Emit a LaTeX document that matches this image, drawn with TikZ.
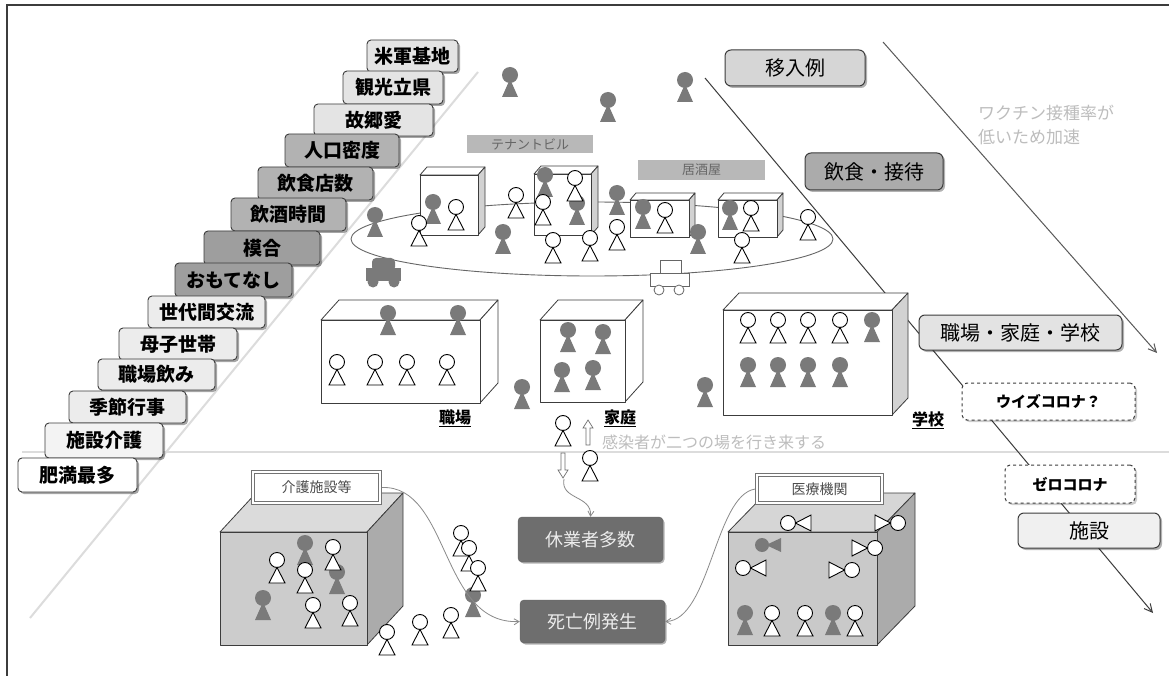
\documentclass[tikz,border=0pt]{standalone}
\usepackage{fontspec}
\setmainfont{Noto Sans CJK JP}
\usetikzlibrary{shadows,arrows.meta}

\definecolor{ink}{HTML}{3C3C3C}
\definecolor{gp}{HTML}{7A7A7A}
\definecolor{paleA}{HTML}{E4E4E4}
\definecolor{midg}{HTML}{B2B2B2}
\definecolor{darkg}{HTML}{9E9E9E}
\definecolor{softg}{HTML}{ECECEC}
\definecolor{softer}{HTML}{F3F3F3}
\definecolor{faint}{HTML}{BDBDBD}
\definecolor{boxd}{HTML}{6E6E6E}
\definecolor{sideg}{HTML}{D2D2D2}
\definecolor{connc}{HTML}{8A8A8A}
\definecolor{guide}{HTML}{DCDCDC}

% rounded label box given by its corners
\newcommand\tagbox[7]{\node[#6,minimum width={(#4-#2)*1pt},minimum height={(#5-#3)*1pt}] (#1) at ({(#2+#4)/2},{(#3+#5)/2}) {#7};}
% 3D box: x1 y1 x2 y2 (front face), depth dx dy, front/top/side fills
\newcommand\cubebox[9]{%
  \filldraw[cubeline,fill=#8] (#1,#2) -- ({#1+#5},{#2-#6}) -- ({#3+#5},{#2-#6}) -- (#3,#2) -- cycle;
  \filldraw[cubeline,fill=#9] (#3,#2) -- ({#3+#5},{#2-#6}) -- ({#3+#5},{#4-#6}) -- (#3,#4) -- cycle;
  \filldraw[cubeline,fill=#7] (#1,#2) rectangle (#3,#4);}
% hollow up / down arrows
\newcommand\uparr[2]{\draw[line width=0.7pt,draw=boxd,fill=white] ({#1-2},{#2+25}) -- ({#1-2},{#2+8}) -- ({#1-5},{#2+8}) -- (#1,#2) -- ({#1+5},{#2+8}) -- ({#1+2},{#2+8}) -- ({#1+2},{#2+25}) -- cycle;}
\newcommand\dnarr[2]{\draw[line width=0.7pt,draw=boxd,fill=white] ({#1-2},{#2}) -- ({#1-2},{#2+17}) -- ({#1-5},{#2+17}) -- (#1,{#2+25}) -- ({#1+5},{#2+17}) -- ({#1+2},{#2+17}) -- ({#1+2},{#2}) -- cycle;}

\tikzset{
  cubeline/.style={draw=ink,line width=0.8pt,line join=round},
  stair/.style={draw=ink,line width=0.9pt,rounded corners=4pt,inner sep=0pt,
    font=\fontsize{19}{19}\selectfont\bfseries,
    drop shadow={shadow xshift=2pt,shadow yshift=-2pt,fill=black,opacity=0.35}},
  tag/.style={draw=ink,line width=1pt,rounded corners=6pt,inner sep=0pt,
    font=\fontsize{20}{20}\selectfont,
    drop shadow={shadow xshift=2pt,shadow yshift=-2pt,fill=black,opacity=0.3}},
  dtag/.style={draw=ink,dashed,line width=1pt,rounded corners=5pt,inner sep=0pt,fill=white,
    font=\fontsize{15}{15}\selectfont\bfseries,
    drop shadow={shadow xshift=2pt,shadow yshift=-2pt,fill=black,opacity=0.2}},
  darkbox/.style={fill=boxd,draw=ink!80,rounded corners=4pt,inner sep=0pt,text=softg,
    font=\fontsize{18}{18}\selectfont,
    drop shadow={shadow xshift=1.5pt,shadow yshift=-1.5pt,fill=black,opacity=0.3}},
  graylbl/.style={fill=black!28,inner sep=0pt,text=black!60,font=\fontsize{13}{13}\selectfont},
  dbl/.style={draw=black!55,line width=3.6pt,fill=white,inner sep=0pt,
    text=black!70,font=\fontsize{14}{14}\selectfont,
    postaction={draw=white,line width=1.6pt},
    drop shadow={shadow xshift=2pt,shadow yshift=-2pt,fill=black,opacity=0.2}},
  place/.style={inner sep=0pt,font=\fontsize{16}{16}\selectfont\bfseries},
  note/.style={inner sep=0pt,text=faint,font=\fontsize{17}{24}\selectfont,align=left},
  conn/.style={draw=connc,line width=0.8pt,-{Straight Barb[length=5pt,width=6pt]}},
  wman/.pic={\draw[line width=0.9pt,fill=white] (0,0) circle[radius=7.5];
    \draw[line width=0.9pt,fill=white] (0,7.5) -- (8,23) -- (-8,23) -- cycle;},
  gman/.pic={\fill[gp] (0,0) circle[radius=8];
    \fill[gp] (0,4) -- (8,22) -- (-8,22) -- cycle;},
  lman/.pic={\draw[line width=0.9pt,fill=white] (0,0) circle[radius=7.5];
    \draw[line width=0.9pt,fill=white] (7.5,0) -- (23,-8) -- (23,8) -- cycle;},
  lgman/.pic={\fill[gp] (0,0) circle[radius=7];
    \fill[gp] (4,0) -- (19,-7) -- (19,7) -- cycle;}
}

\begin{document}
\begin{tikzpicture}[x=1pt,y=-1pt]
\useasboundingbox (0,0) rectangle (1169,676);
\fill[white] (0,0) rectangle (1169,676);

% frame
\draw[line width=1.6pt,ink] (7,676) -- (7,5) -- (1169,5);

% faint guide lines
\draw[guide,line width=2.5pt] (22,452) -- (1169,452);
\draw[guide,line width=2pt] (30,618) -- (478,72);

% diagonal trend lines
\coordinate (d1s) at (705,78);
\coordinate (d1e) at (1153,613);
\draw[ink,line width=1pt,-{Straight Barb[length=8pt,width=8pt]}] (d1s) -- (d1e);
\coordinate (d2s) at (883,42);
\coordinate (d2e) at (1157,353);
\draw[black!65,line width=1pt,-{Straight Barb[length=8pt,width=8pt]}] (d2s) -- (d2e);

\node[note,anchor=west] (vax) at (978,125) {ワクチン接種率が\\低いため加速};

% staircase of factors
\tagbox{s1}{367}{40}{458}{72}{stair,fill=paleA}{米軍基地}
\tagbox{s2}{343}{71}{443}{104}{stair,fill=paleA}{観光立県}
\tagbox{s3}{314}{104}{433}{136}{stair,fill=paleA}{故郷愛}
\tagbox{s4}{285}{134}{399}{167}{stair,fill=midg}{人口密度}
\tagbox{s5}{258}{167}{373}{200}{stair,fill=midg}{飲食店数}
\tagbox{s6}{231}{198}{346}{231}{stair,fill=midg}{飲酒時間}
\tagbox{s7}{204}{231}{320}{265}{stair,fill=darkg}{模合}
\tagbox{s8}{175}{263}{292}{297}{stair,fill=darkg}{おもてなし}
\tagbox{s9}{148}{296}{265}{328}{stair,fill=softg}{世代間交流}
\tagbox{s10}{119}{328}{237}{360}{stair,fill=softg}{母子世帯}
\tagbox{s11}{98}{359}{215}{390}{stair,fill=softg}{職場飲み}
\tagbox{s12}{69}{391}{186}{423}{stair,fill=softg}{季節行事}
\tagbox{s13}{45}{423}{163}{458}{stair,fill=softer}{施設介護}
\tagbox{s14}{18}{458}{137}{492}{stair,fill=white}{肥満最多}

% night district: ring road, buildings, people
\draw[black!60,line width=0.9pt] (592,239) ellipse [x radius=241, y radius=37];
\tagbox{tenant}{467}{135}{593}{153}{graylbl}{テナントビル}
\tagbox{izakaya}{638}{160}{765}{180}{graylbl}{居酒屋}
\cubebox{420}{175}{478}{235}{7}{8}{white}{white}{sideg}
\cubebox{534}{174}{591}{235}{7}{8}{white}{white}{sideg}
\cubebox{630}{200}{689}{237}{6}{7}{white}{white}{sideg}
\cubebox{718}{200}{777}{237}{6}{7}{white}{white}{sideg}

\foreach \x/\y in {510/75,608/100,685/80,375/215,433/202,503/232,545/175,577/203,617/193,643/207,698/232,730/208}
  {\pic at (\x,\y) {gman};}
\foreach \x/\y in {419/223,456/207,516/195,575/178,543/202,553/240,590/238,617/227,665/210,751/208,742/240,808/217}
  {\pic at (\x,\y) {wman};}

% cars
\fill[gp] (366,268) rectangle (401,281);
\fill[gp,rounded corners=4pt] (372,258) rectangle (395,271);
\fill[gp] (373,282) circle[radius=5.5];
\fill[gp] (394,282) circle[radius=5.5];
\draw[black!60,fill=white,line width=0.8pt] (660,260) rectangle (681,273);
\draw[black!60,fill=white,line width=0.8pt] (650,273) rectangle (689,286);
\draw[black!60,fill=white,line width=0.8pt] (659,290) circle[radius=5];
\draw[black!60,fill=white,line width=0.8pt] (679,290) circle[radius=5];

% workplace, home, school
\cubebox{321}{320}{480}{403}{18}{20}{white}{white}{white}
\cubebox{540}{320}{625}{402}{18}{20}{white}{white}{white}
\cubebox{723}{310}{892}{415}{16}{17}{white}{white}{sideg}
\foreach \x/\y in {388/313,458/313,568/330,603/332,562/370,593/368,522/387,705/385,872/320,748/365,778/365,808/365,840/365}
  {\pic at (\x,\y) {gman};}
\foreach \x/\y in {337/362,375/362,407/362,447/362,748/320,778/320,808/320,840/320,563/423,590/458}
  {\pic at (\x,\y) {wman};}
\node[place] (work) at (455,418) {\underline{職場}};
\node[place] (home) at (620,418) {\underline{家庭}};
\node[place] (school) at (928,420) {\underline{学校}};
\uparr{588}{420}
\dnarr{563}{453}
\coordinate (dn) at (564,479);
\node[note,anchor=west,font=\fontsize{16}{16}\selectfont] (move) at (602,442) {感染者が二つの場を行き来する};

% right-hand column of stages
\tagbox{inyu}{725}{50}{865}{86}{tag,fill=black!16}{移入例}
\tagbox{inshoku}{805}{153}{943}{190}{tag,fill=black!33}{飲食・接待}
\tagbox{shokuba}{919}{315}{1122}{350}{tag,fill=black!11}{職場・家庭・学校}
\tagbox{with}{962}{383}{1135}{420}{dtag}{ウイズコロナ？}
\tagbox{zero}{1005}{465}{1135}{503}{dtag}{ゼロコロナ}
\tagbox{shisetsu}{1018}{513}{1160}{548}{tag,fill=black!6}{施設}

% care facility
\cubebox{220}{532}{367}{645}{36}{39}{black!20}{black!14}{black!33}
\tagbox{kaigo}{253}{472}{380}{503}{dbl}{介護施設等}
\foreach \x/\y in {305/543,337/572,263/598,473/595}
  {\pic at (\x,\y) {gman};}
\foreach \x/\y in {333/547,277/560,305/570,313/605,350/603,461/533,469/548,478/568,387/632,420/622,451/615}
  {\pic at (\x,\y) {wman};}

% outcomes
\tagbox{kyugyo}{518}{517}{663}{562}{darkbox}{休業者多数}
\tagbox{shibo}{520}{600}{665}{643}{darkbox}{死亡例発生}

% hospital
\cubebox{728}{532}{877}{645}{38}{39}{black!21}{black!16}{black!33}
\tagbox{iryo}{757}{475}{882}{503}{dbl}{医療機関}
\foreach \x/\y in {788/523,743/568}
  {\pic at (\x,\y) {lman};}
\foreach \x/\y in {898/523,875/548,852/570}
  {\pic[xscale=-1] at (\x,\y) {lman};}
\pic at (762,545) {lgman};
\foreach \x/\y in {745/613,833/613}
  {\pic at (\x,\y) {gman};}
\foreach \x/\y in {772/613,805/613,855/613}
  {\pic at (\x,\y) {wman};}

% connectors
\draw[conn] (kaigo.east) .. controls (450,485) and (440,625) .. (shibo.west);
\draw[conn] (iryo.west) .. controls (715,495) and (710,620) .. (shibo.east);
\draw[conn] (dn) .. controls (560,500) and (592,495) .. (kyugyo.north);
\end{tikzpicture}
\end{document}
